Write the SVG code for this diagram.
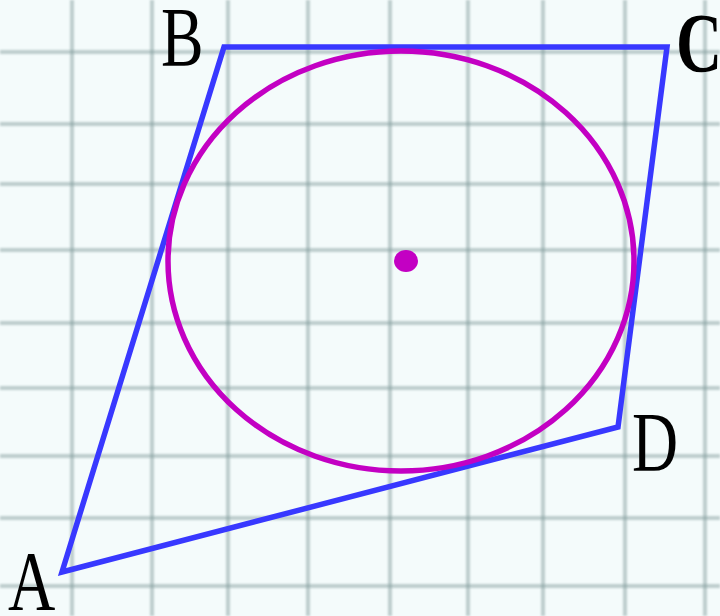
<svg xmlns="http://www.w3.org/2000/svg" width="720" height="616" viewBox="0 0 720 616">
<defs>
<style>
.grid line{stroke:#7d9696;stroke-opacity:0.45;stroke-width:4}
.quad{fill:none;stroke:#3838ff;stroke-width:5.5;stroke-linejoin:miter}
.circ{fill:none;stroke:#c300c3;stroke-width:5.5}
.lbl{font-family:"Liberation Serif","Times New Roman",serif;font-size:84px;fill:#000}
</style>
<filter id="soft" x="-5%" y="-5%" width="110%" height="110%"><feGaussianBlur stdDeviation="1.3"/></filter>
</defs>
<rect width="720" height="616" fill="#f4fbfb"/>
<g class="grid" filter="url(#soft)">
<line x1="72" y1="0" x2="72" y2="616"/>
<line x1="152" y1="0" x2="152" y2="616"/>
<line x1="228" y1="0" x2="228" y2="616"/>
<line x1="308" y1="0" x2="308" y2="616"/>
<line x1="390" y1="0" x2="390" y2="616"/>
<line x1="468" y1="0" x2="468" y2="616"/>
<line x1="543" y1="0" x2="543" y2="616"/>
<line x1="625" y1="0" x2="625" y2="616"/>
<line x1="705" y1="0" x2="705" y2="616"/>
<line x1="0" y1="52" x2="720" y2="52"/>
<line x1="0" y1="124" x2="720" y2="124"/>
<line x1="0" y1="184" x2="720" y2="184"/>
<line x1="0" y1="250" x2="720" y2="250"/>
<line x1="0" y1="323" x2="720" y2="323"/>
<line x1="0" y1="388" x2="720" y2="388"/>
<line x1="0" y1="456" x2="720" y2="456"/>
<line x1="0" y1="518" x2="720" y2="518"/>
<line x1="0" y1="586" x2="720" y2="586"/>
</g>
<g id="quadrilateral">
<polygon class="quad" points="62,572 224,47 667,47 618,427"/>
</g>
<g id="circle">
<ellipse class="circ" cx="401" cy="261" rx="233" ry="210"/>
</g>
<g id="center">
<ellipse cx="406" cy="261" rx="12" ry="11" fill="#c300c3"/>
</g>
<g id="labels">
<text class="lbl" transform="translate(161,66) scale(0.76,1)">B</text>
<text class="lbl" transform="translate(676,72) scale(0.76,1)" font-weight="bold">C</text>
<text class="lbl" transform="translate(632,471) scale(0.76,1)">D</text>
<text class="lbl" transform="translate(8,610) scale(0.78,1)">A</text>
</g>
</svg>
